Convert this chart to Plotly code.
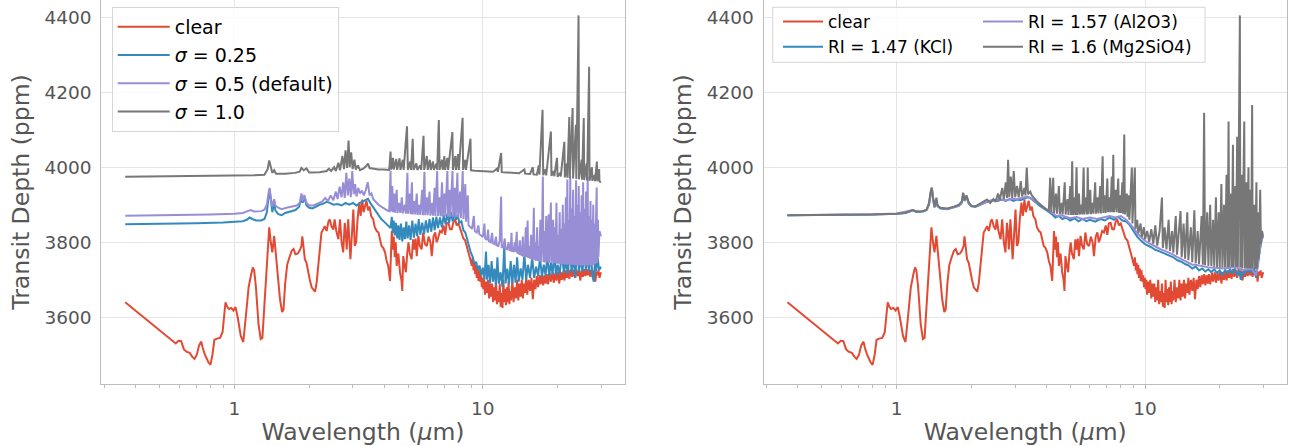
import plotly.graph_objects as go

# ---------------- data: (wavelength [um], transit depth [ppm]) ----------------
clear = [
    (0.363, 3640), (0.58, 3530), (0.595, 3537), (0.61, 3536), (0.625, 3515), (0.64, 3508),
    (0.66, 3505), (0.675, 3495), (0.69, 3489), (0.705, 3500), (0.72, 3525), (0.735, 3535),
    (0.745, 3518), (0.76, 3500), (0.785, 3480), (0.80, 3473), (0.815, 3500), (0.83, 3540),
    (0.85, 3543), (0.875, 3545), (0.895, 3560), (0.91, 3620), (0.92, 3640), (0.935, 3628),
    (0.95, 3622), (0.97, 3625), (0.99, 3618), (1.01, 3627), (1.03, 3600), (1.06, 3550),
    (1.085, 3534), (1.11, 3600), (1.14, 3680), (1.165, 3712), (1.185, 3733), (1.2, 3725),
    (1.22, 3680), (1.25, 3580), (1.275, 3542), (1.295, 3545), (1.32, 3640), (1.345, 3720),
    (1.365, 3800), (1.38, 3840), (1.40, 3800), (1.42, 3773), (1.445, 3817), (1.47, 3760),
    (1.50, 3700), (1.525, 3648), (1.555, 3614), (1.575, 3620), (1.60, 3690), (1.63, 3740),
    (1.665, 3760), (1.70, 3777), (1.73, 3782), (1.76, 3768), (1.80, 3770), (1.83, 3778),
    (1.86, 3790), (1.875, 3816), (1.895, 3790), (1.92, 3755), (1.95, 3745), (1.98, 3720),
    (2.01, 3700), (2.045, 3680), (2.08, 3672), (2.11, 3668), (2.14, 3690), (2.17, 3737),
    (2.21, 3790), (2.24, 3826), (2.28, 3835), (2.31, 3843), (2.35, 3830), (2.39, 3855),
    (2.42, 3861), (2.46, 3842), (2.50, 3834), (2.53, 3861), (2.57, 3830), (2.62, 3808),
    (2.66, 3861), (2.70, 3800), (2.74, 3773), (2.78, 3852), (2.81, 3820), (2.83, 3781),
    (2.87, 3861), (2.90, 3790), (2.93, 3755), (2.97, 3820), (3.01, 3887), (3.05, 3790),
    (3.09, 3800), (3.13, 3861), (3.18, 3906), (3.22, 3870), (3.27, 3914), (3.31, 3880),
    (3.36, 3900), (3.40, 3911), (3.45, 3885), (3.50, 3895), (3.55, 3870), (3.62, 3861),
    (3.67, 3840), (3.74, 3830), (3.80, 3826), (3.86, 3810), (3.91, 3790), (3.97, 3785),
    (4.04, 3773), (4.10, 3750), (4.16, 3737), (4.23, 3697), (4.27, 3760), (4.30, 3830),
    (4.34, 3780), (4.38, 3815), (4.42, 3760), (4.46, 3800), (4.50, 3737), (4.57, 3770),
    (4.64, 3720), (4.70, 3700), (4.74, 3670), (4.78, 3763), (4.84, 3740), (4.90, 3720),
    (4.96, 3770), (5.02, 3800), (5.08, 3770), (5.17, 3755), (5.24, 3808), (5.30, 3780),
    (5.36, 3810), (5.42, 3763), (5.50, 3817), (5.58, 3790), (5.67, 3781), (5.75, 3826),
    (5.85, 3795), (5.95, 3790), (6.05, 3815), (6.15, 3800), (6.23, 3763), (6.33, 3815),
    (6.43, 3826), (6.52, 3800), (6.6, 3810), (6.72, 3830), (6.83, 3826), (6.95, 3845),
    (7.05, 3820), (7.15, 3850), (7.27, 3852), (7.38, 3835), (7.5, 3835), (7.62, 3855),
    (7.74, 3861), (7.85, 3845), (7.98, 3850), (8.1, 3835), (8.22, 3826), (8.35, 3810),
    (8.49, 3805), (8.62, 3790), (8.75, 3773), (8.9, 3755), (9.03, 3737), (9.1, 3760),
    (9.18, 3725), (9.25, 3745), (9.32, 3715), (9.4, 3740), (9.45, 3705), (9.53, 3730),
    (9.61, 3697), (9.68, 3725), (9.75, 3695), (9.83, 3712), (9.91, 3680), (10.0, 3705),
    (10.05, 3675), (10.12, 3700), (10.2, 3660), (10.3, 3695), (10.4, 3665), (10.5, 3700),
    (10.6, 3650), (10.7, 3690), (10.8, 3655), (10.9, 3690), (11.0, 3640), (11.1, 3680),
    (11.2, 3645), (11.3, 3700), (11.4, 3635), (11.5, 3670), (11.6, 3640), (11.7, 3690),
    (11.8, 3628), (11.9, 3665), (12.0, 3625), (12.1, 3700), (12.2, 3640), (12.3, 3675),
    (12.4, 3632), (12.5, 3680), (12.6, 3640), (12.7, 3695), (12.8, 3635), (12.9, 3670),
    (13.0, 3645), (13.15, 3700), (13.3, 3640), (13.45, 3680), (13.6, 3650), (13.75, 3700),
    (13.9, 3645), (14.05, 3690), (14.2, 3655), (14.35, 3700), (14.5, 3650), (14.65, 3690),
    (14.8, 3665), (14.95, 3705), (15.1, 3660), (15.3, 3700), (15.5, 3670), (15.7, 3705),
    (15.9, 3648), (16.1, 3700), (16.3, 3675), (16.5, 3710), (16.7, 3680), (16.9, 3712),
    (17.1, 3688), (17.3, 3715), (17.5, 3685), (17.7, 3712), (17.9, 3690), (18.1, 3715),
    (18.3, 3688), (18.6, 3718), (18.8, 3695), (19.1, 3720), (19.3, 3692), (19.6, 3718),
    (19.8, 3698), (20.1, 3722), (20.3, 3690), (20.6, 3720), (20.8, 3700), (21.1, 3722),
    (21.3, 3698), (21.6, 3725), (21.8, 3705), (22.1, 3725), (22.3, 3702), (22.6, 3728),
    (22.9, 3708), (23.2, 3726), (23.5, 3705), (23.8, 3728), (24.1, 3710), (24.4, 3725),
    (24.7, 3698), (25.0, 3726), (25.3, 3708), (25.6, 3728), (25.9, 3710), (26.2, 3728),
    (26.5, 3712), (26.8, 3728), (27.1, 3708), (27.4, 3726), (27.8, 3712), (28.1, 3725),
    (28.4, 3695), (28.7, 3722), (28.9, 3712), (29.2, 3725), (29.5, 3705), (29.9, 3720),
]

sigma_025 = [
    (0.363, 3848), (0.5, 3849), (0.7, 3851), (0.9, 3853), (1.0, 3855), (1.08, 3856),
    (1.12, 3860), (1.15, 3866), (1.18, 3862), (1.22, 3858), (1.28, 3858), (1.32, 3862),
    (1.35, 3880), (1.37, 3920), (1.385, 3942), (1.40, 3915), (1.42, 3880), (1.445, 3910),
    (1.46, 3885), (1.50, 3875), (1.55, 3872), (1.60, 3878), (1.68, 3882), (1.76, 3886),
    (1.82, 3895), (1.86, 3918), (1.88, 3905), (1.91, 3920), (1.95, 3898), (2.0, 3892),
    (2.06, 3890), (2.12, 3895), (2.2, 3900), (2.28, 3903), (2.35, 3908), (2.42, 3905),
    (2.5, 3900), (2.6, 3902), (2.7, 3898), (2.8, 3905), (2.9, 3900), (3.0, 3905),
    (3.1, 3898), (3.2, 3905), (3.3, 3910), (3.38, 3912), (3.45, 3916), (3.52, 3905),
    (3.6, 3895), (3.7, 3885), (3.8, 3872), (3.9, 3862), (4.0, 3855), (4.1, 3848),
    (4.2, 3840), (4.25, 3838), (4.3, 3868), (4.34, 3825), (4.38, 3858), (4.42, 3818),
    (4.47, 3852), (4.52, 3810), (4.57, 3845), (4.62, 3806), (4.68, 3850), (4.74, 3802),
    (4.8, 3840), (4.86, 3808), (4.92, 3855), (4.98, 3810), (5.05, 3845), (5.12, 3806),
    (5.2, 3858), (5.28, 3812), (5.36, 3850), (5.44, 3816), (5.52, 3862), (5.6, 3820),
    (5.7, 3852), (5.8, 3822), (5.9, 3858), (6.0, 3826), (6.1, 3862), (6.2, 3828),
    (6.3, 3866), (6.4, 3832), (6.5, 3868), (6.6, 3838), (6.72, 3866), (6.84, 3840),
    (6.96, 3872), (7.08, 3848), (7.2, 3876), (7.32, 3852), (7.44, 3880), (7.56, 3856),
    (7.68, 3880), (7.8, 3860), (7.92, 3872), (8.05, 3852), (8.2, 3856), (8.35, 3832),
    (8.5, 3826), (8.65, 3805), (8.8, 3792), (8.95, 3772), (9.1, 3762), (9.25, 3742),
    (9.4, 3748), (9.55, 3726), (9.7, 3738), (9.85, 3712), (10.0, 3732), (10.15, 3700),
    (10.3, 3775), (10.4, 3700), (10.55, 3740), (10.7, 3690), (10.85, 3750), (11.0, 3695),
    (11.15, 3730), (11.3, 3685), (11.45, 3760), (11.6, 3690), (11.8, 3720), (12.0, 3680),
    (12.2, 3790), (12.35, 3690), (12.55, 3730), (12.75, 3688), (12.95, 3750), (13.15, 3690),
    (13.35, 3740), (13.55, 3692), (13.75, 3760), (13.95, 3695), (14.2, 3730), (14.45, 3700),
    (14.7, 3770), (14.95, 3700), (15.2, 3740), (15.5, 3705), (15.8, 3760), (16.1, 3705),
    (16.4, 3735), (16.7, 3710), (17.0, 3760), (17.3, 3708), (17.6, 3740), (17.9, 3712),
    (18.2, 3765), (18.5, 3710), (18.8, 3745), (19.1, 3715), (19.4, 3770), (19.7, 3712),
    (20.0, 3740), (20.4, 3715), (20.8, 3775), (21.2, 3718), (21.6, 3750), (22.0, 3715),
    (22.4, 3780), (22.8, 3720), (23.2, 3760), (23.6, 3705), (24.0, 3790), (24.4, 3722),
    (24.8, 3760), (25.2, 3720), (25.6, 3780), (26.0, 3725), (26.4, 3765), (26.8, 3722),
    (27.2, 3790), (27.6, 3710), (28.0, 3695), (28.3, 3750), (28.6, 3722), (29.0, 3760),
    (29.4, 3725), (29.9, 3735),
]

sigma_05 = [
    (0.363, 3871), (0.6, 3872), (0.8, 3874), (1.0, 3876), (1.08, 3878), (1.13, 3883),
    (1.16, 3886), (1.2, 3882), (1.28, 3883), (1.32, 3887), (1.35, 3900), (1.37, 3930),
    (1.385, 3945), (1.40, 3918), (1.42, 3895), (1.445, 3915), (1.46, 3898), (1.50, 3892),
    (1.55, 3888), (1.62, 3892), (1.7, 3895), (1.78, 3898), (1.83, 3905), (1.86, 3930),
    (1.88, 3910), (1.91, 3926), (1.95, 3905), (2.0, 3898), (2.08, 3898), (2.16, 3903),
    (2.25, 3908), (2.32, 3918), (2.38, 3910), (2.44, 3925), (2.5, 3912), (2.56, 3935),
    (2.6, 3915), (2.65, 3948), (2.7, 3920), (2.74, 3960), (2.78, 3918), (2.82, 3985),
    (2.86, 3925), (2.9, 3970), (2.94, 3920), (2.98, 3990), (3.02, 3928), (3.06, 3955),
    (3.1, 3922), (3.15, 3945), (3.2, 3930), (3.26, 3938), (3.32, 3925), (3.38, 3940),
    (3.44, 3960), (3.5, 3925), (3.56, 3930), (3.62, 3915), (3.7, 3908), (3.8, 3900),
    (3.9, 3895), (4.0, 3890), (4.1, 3886), (4.2, 3883), (4.25, 3990), (4.27, 3882),
    (4.32, 3950), (4.35, 3880), (4.4, 3930), (4.43, 3879), (4.5, 3940), (4.53, 3878),
    (4.6, 3905), (4.65, 3878), (4.72, 3920), (4.76, 3877), (4.85, 3900), (4.9, 3876),
    (4.97, 3985), (5.0, 3876), (5.08, 3930), (5.12, 3875), (5.18, 3960), (5.22, 3874),
    (5.3, 3910), (5.34, 3874), (5.42, 3930), (5.46, 3873), (5.55, 3900), (5.6, 3873),
    (5.7, 3940), (5.74, 3872), (5.82, 3988), (5.86, 3872), (5.95, 3920), (6.0, 3872),
    (6.1, 3935), (6.15, 3871), (6.25, 3905), (6.3, 3871), (6.4, 3945), (6.44, 3870),
    (6.55, 3990), (6.6, 3870), (6.7, 3920), (6.76, 3869), (6.85, 3960), (6.9, 3869),
    (7.0, 3930), (7.06, 3869), (7.2, 3990), (7.25, 3868), (7.35, 3940), (7.4, 3868),
    (7.55, 3990), (7.6, 3868), (7.72, 3945), (7.78, 3867), (7.9, 3985), (7.96, 3866),
    (8.1, 3935), (8.16, 3865), (8.3, 3990), (8.36, 3862), (8.5, 3955), (8.56, 3855),
    (8.7, 3925), (8.76, 3845), (8.9, 3840), (9.05, 3836), (9.2, 3870), (9.28, 3830),
    (9.45, 3826), (9.6, 3845), (9.68, 3822), (9.85, 3818), (10.0, 3814), (10.15, 3850),
    (10.22, 3810), (10.4, 3806), (10.5, 3834), (10.58, 3803), (10.75, 3800), (10.9, 3825),
    (10.98, 3798), (11.15, 3795), (11.3, 3815), (11.38, 3792), (11.55, 3790), (11.7, 3805),
    (11.85, 3922), (11.92, 3787), (12.1, 3785), (12.25, 3810), (12.33, 3783), (12.5, 3781),
    (12.7, 3800), (12.78, 3780), (12.95, 3778), (13.05, 3825), (13.12, 3777), (13.3, 3776),
    (13.45, 3800), (13.52, 3774), (13.7, 3828), (13.78, 3772), (13.95, 3770), (14.1, 3805),
    (14.18, 3768), (14.35, 3766), (14.5, 3815), (14.58, 3764), (14.75, 3762), (14.9, 3840),
    (14.98, 3760), (15.15, 3858), (15.23, 3758), (15.4, 3790), (15.48, 3756), (15.65, 3820),
    (15.73, 3754), (15.9, 3760), (16.05, 3892), (16.13, 3752), (16.3, 3800), (16.38, 3751),
    (16.55, 3840), (16.63, 3750), (16.8, 3790), (16.88, 3749), (17.05, 3860), (17.13, 3748),
    (17.3, 3800), (17.45, 3975), (17.55, 3747), (17.75, 3830), (17.83, 3746), (18.0, 3870),
    (18.08, 3746), (18.25, 3800), (18.4, 3874), (18.48, 3745), (18.65, 3830), (18.8, 3906),
    (18.88, 3745), (19.05, 3820), (19.2, 3860), (19.28, 3744), (19.5, 3840), (19.58, 3744),
    (19.8, 3905), (19.9, 3743), (20.1, 3820), (20.2, 3743), (20.4, 3880), (20.5, 3742),
    (20.7, 3835), (20.8, 3742), (21.0, 3900), (21.1, 3742), (21.3, 3850), (21.4, 3741),
    (21.6, 3920), (21.7, 3741), (21.9, 3967), (22.0, 3741), (22.2, 3860), (22.3, 3740),
    (22.5, 3975), (22.6, 3740), (22.8, 3890), (22.9, 3740), (23.1, 3940), (23.2, 3740),
    (23.4, 3870), (23.5, 3739), (23.75, 3965), (23.85, 3739), (24.05, 3900), (24.15, 3739),
    (24.35, 3950), (24.45, 3739), (24.7, 3880), (24.8, 3738), (25.0, 3925), (25.1, 3738),
    (25.35, 3960), (25.45, 3738), (25.7, 3890), (25.8, 3738), (26.05, 3935), (26.15, 3738),
    (26.45, 3975), (26.55, 3738), (26.8, 3870), (26.9, 3738), (27.15, 3910), (27.25, 3738),
    (27.5, 3860), (27.6, 3738), (27.85, 3900), (27.95, 3740), (28.2, 3850), (28.3, 3742),
    (28.55, 3900), (28.75, 3946), (28.85, 3745), (29.1, 3860), (29.2, 3760), (29.5, 3830),
    (29.9, 3816),
]

sigma_10 = [
    (0.363, 3975), (0.6, 3976), (0.8, 3977), (1.0, 3978), (1.2, 3979), (1.32, 3980),
    (1.36, 3995), (1.38, 4018), (1.40, 3998), (1.42, 3985), (1.445, 3992), (1.47, 3983),
    (1.6, 3983), (1.75, 3985), (1.83, 3988), (1.86, 3998), (1.9, 3992), (1.95, 3997),
    (2.0, 3986), (2.2, 3987), (2.35, 3990), (2.4, 3996), (2.45, 3990), (2.52, 4000),
    (2.56, 3990), (2.62, 4012), (2.66, 3992), (2.72, 4030), (2.76, 3995), (2.8, 4045),
    (2.84, 3998), (2.88, 4071), (2.91, 4000), (2.95, 4040), (2.99, 3995), (3.04, 4020),
    (3.08, 3994), (3.14, 4005), (3.2, 3992), (3.3, 3996), (3.4, 4004), (3.45, 4010),
    (3.5, 3998), (3.6, 3996), (3.8, 3994), (4.0, 3994), (4.2, 3993), (4.25, 4042),
    (4.28, 3994), (4.35, 4025), (4.38, 3994), (4.48, 4022), (4.52, 3993), (4.62, 4024),
    (4.66, 3993), (4.76, 4020), (4.8, 3993), (4.95, 4109), (4.99, 3993), (5.1, 4015),
    (5.14, 3993), (5.22, 4076), (5.26, 3993), (5.4, 4010), (5.45, 3993), (5.6, 4005),
    (5.65, 3993), (5.77, 4084), (5.81, 3993), (5.95, 4030), (6.0, 3993), (6.12, 4020),
    (6.17, 3993), (6.3, 4015), (6.35, 3993), (6.5, 4010), (6.55, 3993), (6.65, 4126),
    (6.7, 3993), (6.85, 4020), (6.9, 3993), (7.0, 4030), (7.05, 3993), (7.2, 4025),
    (7.25, 3993), (7.54, 4094), (7.58, 3993), (7.75, 4030), (7.8, 3993), (7.95, 4035),
    (8.0, 3993), (8.29, 4132), (8.33, 3993), (8.5, 4020), (8.55, 3993), (8.92, 4076),
    (8.96, 3992), (9.3, 3991), (9.8, 3990), (10.5, 3989), (11.0, 3988), (11.4, 3996),
    (11.5, 3988), (11.85, 4038), (11.92, 3987), (12.5, 3986), (13.3, 3985), (14.0, 3984),
    (14.7, 3994), (14.8, 3983), (15.5, 3982), (15.9, 4000), (16.0, 3981), (16.5, 3980),
    (16.8, 4005), (16.9, 3980), (17.4, 4153), (17.5, 3979), (17.9, 3995), (18.0, 3978),
    (18.8, 4095), (18.9, 3977), (19.3, 3990), (19.4, 3976), (19.9, 4025), (20.0, 3975),
    (20.5, 3985), (20.6, 3975), (21.3, 4068), (21.4, 3973), (21.8, 4010), (21.9, 3972),
    (22.3, 4134), (22.4, 3971), (23.0, 4158), (23.1, 3970), (23.7, 4113), (23.8, 3969),
    (24.3, 4405), (24.4, 3968), (25.0, 4020), (25.1, 3967), (25.5, 4131), (25.6, 3966),
    (26.2, 4010), (26.3, 3965), (26.8, 4268), (26.9, 3964), (27.5, 4000), (27.6, 3964),
    (28.2, 3980), (28.3, 3963), (28.8, 4015), (28.9, 3963), (29.4, 3995), (29.5, 3962),
    (29.9, 3960),
]

ri_147 = [
    (0.363, 3872), (0.6, 3873), (0.8, 3874), (1.0, 3876), (1.08, 3878), (1.13, 3882),
    (1.16, 3885), (1.2, 3881), (1.28, 3882), (1.32, 3886), (1.35, 3900), (1.37, 3930),
    (1.385, 3944), (1.40, 3916), (1.42, 3893), (1.445, 3912), (1.46, 3896), (1.50, 3890),
    (1.6, 3888), (1.7, 3893), (1.78, 3897), (1.83, 3905), (1.86, 3928), (1.88, 3910),
    (1.91, 3922), (1.95, 3903), (2.0, 3896), (2.08, 3895), (2.16, 3900), (2.25, 3906),
    (2.35, 3910), (2.45, 3912), (2.55, 3910), (2.65, 3914), (2.75, 3910), (2.85, 3915),
    (2.95, 3910), (3.05, 3914), (3.15, 3912), (3.25, 3916), (3.35, 3920), (3.45, 3918),
    (3.55, 3912), (3.65, 3905), (3.75, 3898), (3.9, 3890), (4.05, 3882), (4.2, 3876),
    (4.35, 3866), (4.5, 3870), (4.65, 3862), (4.8, 3866), (5.0, 3858), (5.2, 3864),
    (5.4, 3856), (5.6, 3862), (5.8, 3856), (6.0, 3860), (6.3, 3855), (6.6, 3862),
    (6.9, 3858), (7.2, 3866), (7.5, 3860), (7.8, 3868), (8.1, 3858), (8.4, 3855),
    (8.7, 3845), (9.0, 3830), (9.3, 3815), (9.6, 3805), (10.0, 3795), (10.5, 3788),
    (11.0, 3780), (11.5, 3775), (12.0, 3770), (12.5, 3765), (13.0, 3760), (13.5, 3752),
    (14.0, 3748), (14.5, 3742), (15.0, 3738), (15.5, 3730), (16.0, 3735), (16.5, 3725),
    (17.0, 3730), (17.5, 3722), (18.0, 3728), (18.5, 3720), (19.0, 3728), (19.5, 3718),
    (20.0, 3725), (20.5, 3712), (21.0, 3726), (21.5, 3718), (22.0, 3728), (22.5, 3716),
    (23.0, 3730), (23.5, 3712), (24.0, 3725), (24.3, 3700), (24.6, 3720), (25.0, 3715),
    (25.5, 3728), (26.0, 3720), (26.5, 3728), (27.0, 3720), (27.5, 3730), (28.0, 3705),
    (28.3, 3735), (28.7, 3760), (29.2, 3790), (29.6, 3815), (29.9, 3810),
]

ri_157 = [
    (0.363, 3872), (0.6, 3873), (0.8, 3875), (1.0, 3877), (1.13, 3883), (1.16, 3886),
    (1.2, 3882), (1.28, 3883), (1.32, 3887), (1.35, 3902), (1.37, 3932), (1.385, 3945),
    (1.40, 3918), (1.42, 3894), (1.445, 3914), (1.46, 3897), (1.5, 3891), (1.6, 3889),
    (1.7, 3894), (1.78, 3898), (1.83, 3906), (1.86, 3929), (1.88, 3911), (1.91, 3923),
    (1.95, 3904), (2.0, 3897), (2.1, 3897), (2.2, 3903), (2.3, 3908), (2.45, 3913),
    (2.6, 3914), (2.75, 3912), (2.9, 3916), (3.05, 3915), (3.2, 3918), (3.35, 3922),
    (3.5, 3916), (3.65, 3907), (3.8, 3898), (3.95, 3890), (4.1, 3884), (4.25, 3878),
    (4.4, 3870), (4.6, 3872), (4.8, 3868), (5.0, 3864), (5.3, 3867), (5.6, 3862),
    (6.0, 3866), (6.4, 3862), (6.8, 3866), (7.2, 3870), (7.6, 3866), (8.0, 3870),
    (8.4, 3860), (8.7, 3850), (9.0, 3838), (9.3, 3824), (9.6, 3814), (10.0, 3804),
    (10.5, 3796), (11.0, 3788), (11.5, 3782), (12.0, 3777), (12.5, 3772), (13.0, 3767),
    (13.5, 3760), (14.0, 3755), (14.5, 3750), (15.0, 3745), (15.5, 3740), (16.0, 3740),
    (17.0, 3736), (18.0, 3733), (19.0, 3732), (20.0, 3730), (21.0, 3730), (22.0, 3732),
    (23.0, 3734), (24.0, 3730), (25.0, 3726), (26.0, 3728), (27.0, 3728), (28.0, 3712),
    (28.5, 3740), (29.2, 3795), (29.6, 3818), (29.9, 3812),
]

ri_160 = [
    (0.363, 3872), (0.6, 3873), (0.8, 3874), (1.0, 3876), (1.08, 3878), (1.13, 3883),
    (1.16, 3886), (1.2, 3882), (1.28, 3883), (1.32, 3887), (1.35, 3905), (1.37, 3935),
    (1.385, 3946), (1.40, 3920), (1.42, 3895), (1.445, 3919), (1.46, 3898), (1.50, 3892),
    (1.6, 3890), (1.7, 3895), (1.78, 3900), (1.83, 3910), (1.85, 3932), (1.88, 3912),
    (1.91, 3925), (1.95, 3906), (2.0, 3897), (2.07, 3895), (2.16, 3902), (2.25, 3908),
    (2.31, 3914), (2.38, 3905), (2.45, 3915), (2.5, 3908), (2.56, 3930), (2.6, 3912),
    (2.66, 3945), (2.7, 3915), (2.75, 3960), (2.78, 3918), (2.81, 4020), (2.84, 3920),
    (2.88, 3975), (2.92, 3918), (2.96, 3990), (3.0, 3920), (3.05, 3950), (3.1, 3920),
    (3.16, 3963), (3.2, 3922), (3.27, 3945), (3.3, 3925), (3.34, 3999), (3.38, 3928),
    (3.45, 3935), (3.5, 3925), (3.6, 3915), (3.67, 3909), (3.8, 3900), (3.95, 3890),
    (4.1, 3884), (4.15, 3972), (4.19, 3880), (4.27, 3972), (4.3, 3878), (4.38, 3930),
    (4.42, 3876), (4.5, 3950), (4.54, 3875), (4.62, 3905), (4.66, 3874), (4.75, 3960),
    (4.79, 3874), (4.88, 3915), (4.92, 3873), (5.0, 3950), (5.04, 3873), (5.09, 4016),
    (5.13, 3873), (5.2, 3920), (5.24, 3873), (5.3, 4000), (5.34, 3873), (5.42, 3930),
    (5.46, 3874), (5.55, 3900), (5.59, 3874), (5.66, 3999), (5.7, 3874), (5.8, 3920),
    (5.84, 3874), (5.88, 3999), (5.92, 3875), (6.02, 3940), (6.06, 3875), (6.15, 3905),
    (6.2, 3876), (6.3, 3960), (6.35, 3876), (6.45, 3920), (6.5, 3877), (6.6, 3950),
    (6.65, 3877), (6.75, 4029), (6.8, 3878), (6.9, 3925), (6.95, 3878), (7.05, 3970),
    (7.1, 3880), (7.2, 3920), (7.25, 3880), (7.35, 3975), (7.4, 3880), (7.45, 4033),
    (7.5, 3880), (7.62, 3940), (7.68, 3880), (7.8, 3970), (7.85, 3878), (7.95, 3925),
    (8.0, 3878), (8.1, 3960), (8.15, 3876), (8.25, 4087), (8.3, 3874), (8.45, 3930),
    (8.5, 3868), (8.6, 3925), (8.65, 3860), (8.85, 3999), (8.9, 3850), (9.1, 3999),
    (9.15, 3836), (9.3, 3860), (9.4, 3824), (9.6, 3850), (9.7, 3814), (9.9, 3840),
    (10.0, 3808), (10.2, 3830), (10.4, 3801), (10.6, 3835), (10.8, 3796), (11.0, 3845),
    (11.2, 3791), (11.45, 3830), (11.7, 3919), (11.8, 3785), (12.0, 3840), (12.2, 3781),
    (12.45, 3860), (12.6, 3777), (12.85, 3830), (13.0, 3772), (13.3, 3870), (13.45, 3767),
    (13.9, 3883), (14.05, 3760), (14.3, 3850), (14.5, 3756), (14.8, 3880), (14.95, 3752),
    (15.3, 3840), (15.5, 3747), (15.8, 3885), (16.0, 3744), (16.3, 3830), (16.5, 3742),
    (16.9, 3870), (17.1, 3740), (17.3, 4145), (17.45, 3739), (17.8, 3880), (18.0, 3737),
    (18.3, 3900), (18.5, 3736), (18.8, 3860), (19.0, 3735), (19.3, 3920), (19.5, 3734),
    (19.8, 3880), (20.0, 3733), (20.3, 3955), (20.5, 3733), (20.8, 3900), (21.0, 3733),
    (21.3, 3980), (21.5, 3733), (21.7, 4122), (21.85, 3734), (22.2, 3930), (22.35, 3734),
    (22.6, 4060), (22.75, 3735), (23.1, 3950), (23.25, 3735), (23.5, 4081), (23.65, 3734),
    (24.1, 4405), (24.2, 3733), (24.5, 3980), (24.65, 3731), (25.1, 4122), (25.25, 3730),
    (25.6, 3960), (25.75, 3730), (26.1, 4000), (26.25, 3730), (26.6, 3940), (26.75, 3730),
    (27.0, 4166), (27.15, 3730), (27.6, 3900), (27.75, 3728), (28.1, 3960), (28.25, 3730),
    (28.6, 3880), (28.75, 3755), (29.1, 3940), (29.3, 3795), (29.6, 3830), (29.9, 3815),
]

left_names = ["clear", "<i>σ</i> = 0.25", "<i>σ</i> = 0.5 (default)", "<i>σ</i> = 1.0"]
right_names = ["clear", "RI = 1.47 (KCl)", "RI = 1.57 (Al2O3)", "RI = 1.6 (Mg2SiO4)"]
colors = ["#E24A33", "#348ABD", "#988ED5", "#777777"]
y_ticks = [3600, 3800, 4000, 4200, 4400]
x_major = [1, 10]
x_major_text = ["1", "10"]
x_minor = [0.3, 0.4, 0.5, 0.6, 0.7, 0.8, 0.9, 2, 3, 4, 5, 6, 7, 8, 9, 20, 30]

# ---------------- figure ----------------
W, H = 1291, 446
FONT = "DejaVu Sans"
TXT = "#555555"
GRID = "#e5e5e5"
SPINE = "#bdbdbd"

fig = go.Figure()


def add(series, name, color, xa, ya, legend, group):
    wl = [p[0] for p in series]
    td = [p[1] for p in series]
    fig.add_trace(go.Scatter(x=wl, y=td, mode="lines", name=name,
                             line=dict(color=color, width=2),
                             xaxis=xa, yaxis=ya, legend=legend,
                             legendgroup=group))


left_series = [clear, sigma_025, sigma_05, sigma_10]
for i, (s, n, c) in enumerate(zip(left_series, left_names, colors)):
    add(s, n, c, "x", "y", "legend", "L%d" % i)

right_series = [clear, ri_147, ri_157, ri_160]
right_legends = ["legend2", "legend2", "legend3", "legend3"]
for i, (s, n, c, lg) in enumerate(zip(right_series, right_names, colors, right_legends)):
    add(s, n, c, "x2", "y2", lg, "R%d" % i)

xr = [-0.536, 1.571]
yr = [3422, 4446]
ydom = [62 / H, 1.0]


def xaxis(dom, anchor):
    return dict(type="log", domain=dom, range=xr, anchor=anchor, automargin=False,
                tickvals=x_major, ticktext=x_major_text,
                ticks="outside", ticklen=4, tickwidth=1, tickcolor=SPINE,
                ticklabelstandoff=4,
                minor=dict(tickvals=x_minor, ticks="outside", ticklen=3,
                           tickwidth=1, tickcolor=SPINE, showgrid=False),
                showgrid=True, gridcolor=GRID, gridwidth=1.2,
                showline=True, linecolor=SPINE, linewidth=1.3, mirror=False,
                zeroline=False,
                tickfont=dict(family=FONT, size=18.5, color=TXT),
                title=dict(text="Wavelength (<i>μ</i>m)", standoff=6,
                           font=dict(family=FONT, size=23.5, color=TXT)))


def yaxis(anchor):
    return dict(domain=ydom, range=yr, anchor=anchor, automargin=False,
                tickvals=y_ticks,
                ticks="", ticklabelstandoff=5,
                showgrid=True, gridcolor=GRID, gridwidth=1.2,
                showline=True, linecolor=SPINE, linewidth=1.3, mirror=True,
                zeroline=False,
                tickfont=dict(family=FONT, size=18.5, color=TXT),
                title=dict(text="Transit Depth (ppm)", standoff=8,
                           font=dict(family=FONT, size=23.5, color=TXT)))


fig.update_layout(
    width=W, height=H,
    margin=dict(l=0, r=0, t=0, b=0, autoexpand=False),
    paper_bgcolor="white", plot_bgcolor="white",
    xaxis=xaxis([101.4 / W, 624.6 / W], "y"),
    yaxis=yaxis("x"),
    xaxis2=xaxis([763.6 / W, 1286.8 / W], "y2"),
    yaxis2=yaxis("x2"),
    legend=dict(x=111.7 / W, y=1 - 7 / H, xanchor="left", yanchor="top",
                bgcolor="rgba(255,255,255,0.85)", bordercolor="#d5d5d5",
                borderwidth=1, font=dict(family=FONT, size=19, color="black"),
                itemwidth=52, tracegroupgap=0.5, groupclick="toggleitem"),
    legend2=dict(x=778 / W, y=1 - 4 / H, xanchor="left", yanchor="top",
                 bgcolor="rgba(0,0,0,0)", borderwidth=0, itemwidth=40,
                 tracegroupgap=0,
                 font=dict(family=FONT, size=17, color="black")),
    legend3=dict(x=978 / W, y=1 - 4 / H, xanchor="left", yanchor="top",
                 bgcolor="rgba(0,0,0,0)", borderwidth=0, itemwidth=40,
                 tracegroupgap=0,
                 font=dict(family=FONT, size=17, color="black")),
    shapes=[dict(type="rect", xref="paper", yref="paper",
                 x0=772.7 / W, x1=1205 / W, y0=1 - 62.3 / H, y1=1 - 7.3 / H,
                 line=dict(color="#d5d5d5", width=1),
                 fillcolor="rgba(255,255,255,0.85)", layer="above")],
    showlegend=True,
)

fig.write_html("out.html",
               config={"displayModeBar": False},
               post_script="document.body.style.margin='0px';"
                           "document.body.style.overflow='hidden';")
